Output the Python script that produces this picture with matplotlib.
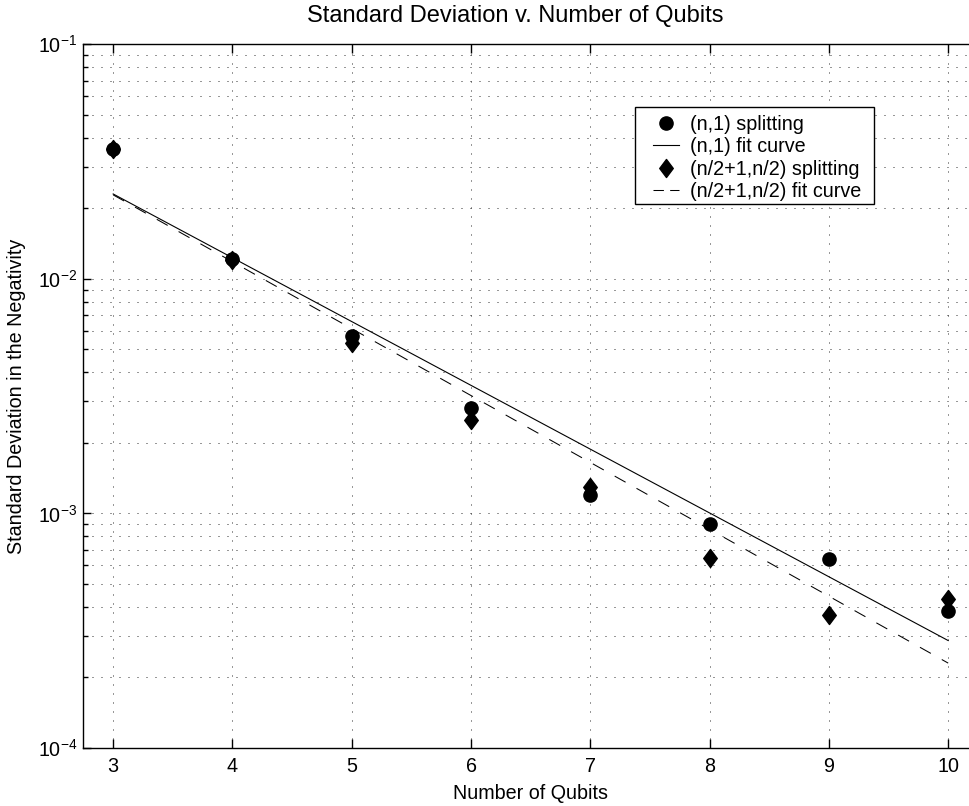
import numpy as np
import matplotlib
matplotlib.use("Agg")
import matplotlib.pyplot as plt
from matplotlib.path import Path
from matplotlib.patches import Rectangle
from matplotlib.ticker import LogLocator, NullFormatter

# ===================== DATA =====================
qubits = [3, 4, 5, 6, 7, 8, 9, 10]
std_n1 = [0.0358, 0.0122, 5.71e-3, 2.81e-3, 1.20e-3, 9.02e-4, 6.40e-4, 3.85e-4]
std_half = [0.0358, 0.0120, 5.35e-3, 2.49e-3, 1.30e-3, 6.44e-4, 3.69e-4, 4.30e-4]

fit_x = [3, 10]
fit_n1 = [0.0230, 2.87e-4]
fit_half = [0.0228, 2.30e-4]

# ===================== STYLE =====================
plt.rcParams["font.family"] = ["Liberation Sans", "DejaVu Sans"]
plt.rcParams["mathtext.default"] = "regular"
plt.rcParams["font.size"] = 14.2

# narrower-than-square diamond, like MATLAB's
diamond = Path([(0, 1), (0.75, 0), (0, -1), (-0.75, 0), (0, 1)],
               [Path.MOVETO, Path.LINETO, Path.LINETO, Path.LINETO, Path.CLOSEPOLY])

fig = plt.figure(figsize=(9.69, 8.06), dpi=100)
# axes runs a bit past the right edge of the figure, as in the original
ax = fig.add_axes([0.0860, 0.0720, 0.9233, 0.8731])

ax.plot(qubits, std_n1, linestyle="none", marker="o", markersize=9.5,
        color="black", label="(n,1) splitting", zorder=3)
ax.plot(fit_x, fit_n1, color="black", lw=0.8, label="(n,1) fit curve", zorder=3)
ax.plot(qubits, std_half, linestyle="none", marker=diamond, markersize=13,
        color="black", label="(n/2+1,n/2) splitting", zorder=3)
ax.plot(fit_x, fit_half, color="black", lw=0.75, linestyle=(0, (12, 12)),
        label="(n/2+1,n/2) fit curve", zorder=3)

ax.set_yscale("log")
ax.set_xlim(2.75, 10.25)
ax.set_ylim(1e-4, 1e-1)
ax.set_xticks(qubits)
ax.yaxis.set_major_locator(LogLocator(base=10, numticks=10))
ax.yaxis.set_minor_locator(LogLocator(base=10, subs=np.arange(2, 10), numticks=50))
ax.yaxis.set_minor_formatter(NullFormatter())

ax.tick_params(which="both", direction="in", top=True, right=False, width=1.0)
ax.tick_params(axis="x", which="major", length=6.5, pad=6.5)
ax.tick_params(axis="y", which="major", length=6, pad=4.5)
ax.tick_params(axis="y", which="minor", length=3.5)
for sp in ax.spines.values():
    sp.set_linewidth(1.0)
ax.spines["right"].set_visible(False)

grid_kw = dict(color="0.2", lw=0.72, linestyle=(0, (1, 8)))
ax.grid(True, axis="x", which="major", **grid_kw)
ax.grid(True, axis="y", which="both", **grid_kw)
ax.set_axisbelow(True)

ax.set_title("Standard Deviation v. Number of Qubits", x=0.4825, pad=16)
ax.set_xlabel("Number of Qubits", labelpad=6)
ax.set_ylabel("Standard Deviation in the Negativity", labelpad=8)

# legend box (white, black edge) with the entries drawn over it
ax.add_patch(Rectangle((0.6166, 0.7730), 0.8838 - 0.6166, 0.9109 - 0.7730,
                       transform=ax.transAxes, facecolor="white",
                       edgecolor="black", lw=1.0, zorder=4))
leg = ax.legend(loc="upper left", bbox_to_anchor=(0.637, 0.9001),
                frameon=False, borderpad=0, borderaxespad=0,
                handlelength=1.3, handletextpad=0.58, labelspacing=0.18)
leg.set_zorder(5)
# shorter dashes in the legend so two of them show
leg.get_lines()[3].set_linestyle((0, (10, 6)))

fig.savefig("out.png", dpi=100)
